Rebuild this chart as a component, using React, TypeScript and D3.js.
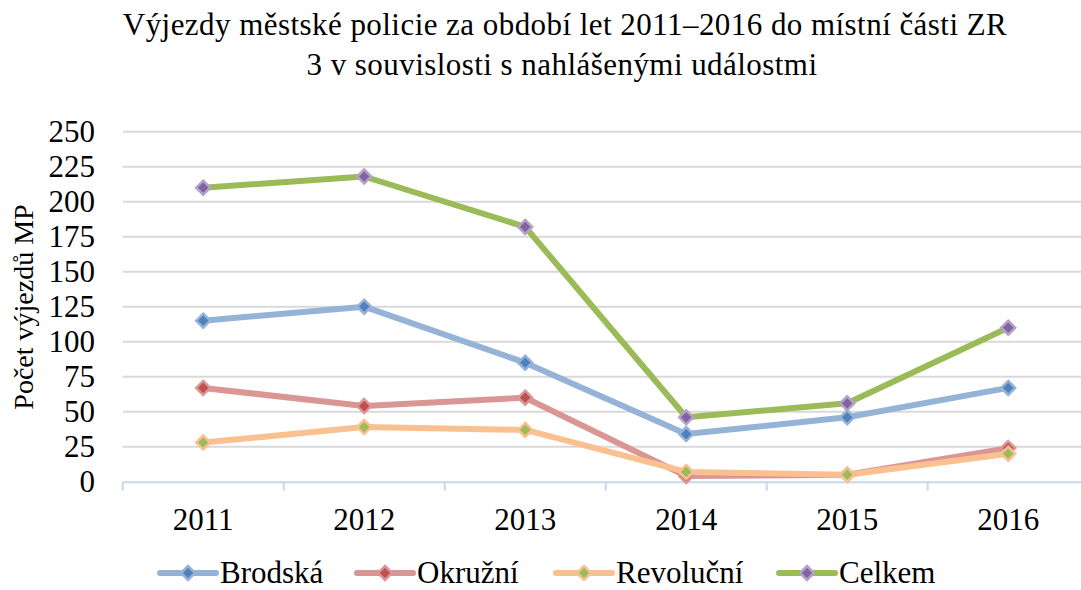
import React, { useEffect, useRef } from 'react'
import * as d3 from 'd3'

const years = ['2011', '2012', '2013', '2014', '2015', '2016']
const yTicks = [0, 25, 50, 75, 100, 125, 150, 175, 200, 225, 250]

const seriesNames = ['Brodská', 'Okružní', 'Revoluční', 'Celkem']
const brodska = [115, 125, 85, 34, 46, 67]
const okruzni = [67, 54, 60, 4, 5, 24]
const revolucni = [28, 39, 37, 7, 5, 20]
const celkem = [210, 218, 182, 46, 56, 110]

const lineColors = ['#95B3D7', '#D99694', '#FAC090', '#9BBB59']
const markerFill = ['#4F81BD', '#C0504D', '#9BBB59', '#8064A2']
const markerStroke = ['#95B3D7', '#D99694', '#FAC090', '#B3A2C7']

const W = 1081
const H = 590
const FONT = "'Liberation Serif', 'Times New Roman', serif"

export default function App() {
  const ref = useRef<SVGSVGElement>(null)

  useEffect(() => {
    const svg = d3.select(ref.current)
    svg.selectAll('*').remove()

    const left = 122.7
    const bandW = 161
    const top = 131.7
    const bottom = 481.7

    const x = d3
      .scaleBand()
      .domain(years)
      .range([left, left + bandW * years.length])
    const y = d3.scaleLinear().domain([0, 250]).range([bottom, top])

    // mřížka
    svg
      .append('g')
      .selectAll('line')
      .data(yTicks.filter((t) => t > 0))
      .enter()
      .append('line')
      .attr('x1', left)
      .attr('x2', left + bandW * years.length)
      .attr('y1', (d) => y(d))
      .attr('y2', (d) => y(d))
      .attr('stroke', '#D9D9D9')
      .attr('stroke-width', 2)

    // popisky osy y
    svg
      .append('g')
      .selectAll('text')
      .data(yTicks)
      .enter()
      .append('text')
      .attr('x', 95)
      .attr('y', (d) => y(d) + 10)
      .attr('text-anchor', 'end')
      .style('font-family', FONT)
      .attr('font-size', 31)
      .text((d) => d)

    // osa x
    const xAxis = d3
      .axisBottom(x)
      .tickSize(0)
      .tickFormat(() => '')
    const gx = svg.append('g').attr('transform', `translate(0,${bottom})`).call(xAxis)
    gx.select('.domain').attr('stroke', '#C9D8EE').attr('stroke-width', 2)

    svg
      .append('g')
      .selectAll('line')
      .data(d3.range(years.length + 1))
      .enter()
      .append('line')
      .attr('x1', (i) => left + bandW * i)
      .attr('x2', (i) => left + bandW * i)
      .attr('y1', bottom)
      .attr('y2', bottom + 9)
      .attr('stroke', '#C9D8EE')
      .attr('stroke-width', 2)

    svg
      .append('g')
      .selectAll('text')
      .data(years)
      .enter()
      .append('text')
      .attr('x', (d) => (x(d) as number) + x.bandwidth() / 2)
      .attr('y', 530)
      .attr('text-anchor', 'middle')
      .style('font-family', FONT)
      .attr('font-size', 31)
      .text((d) => d)

    // řady
    const allData = [brodska, okruzni, revolucni, celkem]
    const line = d3
      .line<number>()
      .x((_, i) => (x(years[i]) as number) + x.bandwidth() / 2)
      .y((d) => y(d))

    const diamond = (cx: number, cy: number, r: number) =>
      `M${cx},${cy - r}L${cx + r},${cy}L${cx},${cy + r}L${cx - r},${cy}Z`

    allData.forEach((data, s) => {
      svg
        .append('path')
        .attr('d', line(data) as string)
        .attr('fill', 'none')
        .attr('stroke', lineColors[s])
        .attr('stroke-width', 6)
        .attr('stroke-linejoin', 'round')
    })
    allData.forEach((data, s) => {
      svg
        .append('g')
        .selectAll('path')
        .data(data)
        .enter()
        .append('path')
        .attr('d', (d, i) => diamond((x(years[i]) as number) + x.bandwidth() / 2, y(d), 7))
        .attr('fill', markerFill[s])
        .attr('stroke', markerStroke[s])
        .attr('stroke-width', 2.5)
    })

    // nadpis
    const title = svg
      .append('text')
      .attr('text-anchor', 'middle')
      .style('font-family', FONT)
      .style('letter-spacing', '0.45px')
      .attr('font-size', 31)
    title.append('tspan').attr('x', 565).attr('y', 35).text('Výjezdy městské policie za období let 2011–2016 do místní části ZR')
    title.append('tspan').attr('x', 562).attr('y', 75).text('3 v souvislosti s nahlášenými událostmi')

    // popisek osy y
    svg
      .append('text')
      .attr('transform', 'translate(33,307) rotate(-90)')
      .attr('text-anchor', 'middle')
      .style('font-family', FONT)
      .attr('font-size', 28)
      .text('Počet výjezdů MP')

    // legenda
    const legendX = [160, 357, 556, 779]
    seriesNames.forEach((name, s) => {
      const lx = legendX[s]
      const g = svg.append('g')
      g.append('line')
        .attr('x1', lx)
        .attr('x2', lx + 56)
        .attr('y1', 573)
        .attr('y2', 573)
        .attr('stroke', lineColors[s])
        .attr('stroke-width', 6)
        .attr('stroke-linecap', 'round')
      g.append('path')
        .attr('d', diamond(lx + 28, 573, 7))
        .attr('fill', markerFill[s])
        .attr('stroke', markerStroke[s])
        .attr('stroke-width', 2.5)
      g.append('text')
        .attr('x', lx + 60)
        .attr('y', 583)
        .style('font-family', FONT)
        .attr('font-size', 31)
        .text(name)
    })
  }, [])

  return (
    <svg
      ref={ref}
      width={W}
      height={H}
      style={{ position: 'absolute', top: 0, left: 0, background: '#fff' }}
    />
  )
}
